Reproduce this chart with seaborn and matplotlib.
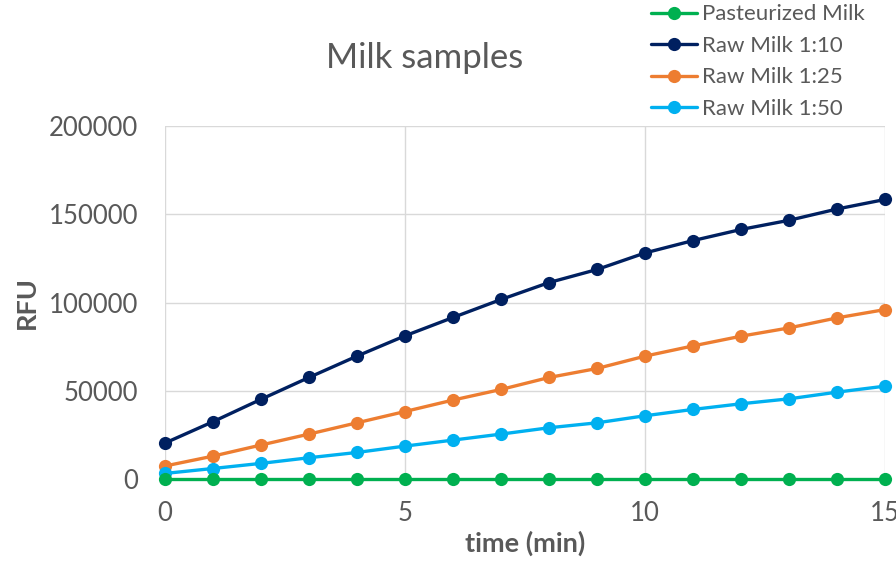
import seaborn as sns
import matplotlib.pyplot as plt
import pandas as pd

sns.set_theme(style="whitegrid")
plt.rcParams['font.family'] = ['Lato', 'DejaVu Sans']

# data
time_min = list(range(16))
pasteurized = [0] * 16
raw_1_10 = [20400, 32500, 45200, 57600, 69700, 81200, 91600, 101800,
            111400, 118800, 128200, 135200, 141500, 146700, 153100, 158500]
raw_1_25 = [7400, 13000, 19300, 25500, 31900, 38300, 44800, 50800,
            57600, 62700, 69700, 75500, 81000, 85700, 91400, 96100]
raw_1_50 = [3200, 6000, 8900, 12100, 15100, 18700, 22100, 25500,
            29100, 31900, 35900, 39500, 42700, 45500, 49300, 52700]

series = {
    'Pasteurized Milk': (pasteurized, '#00B050'),
    'Raw Milk 1:10': (raw_1_10, '#002060'),
    'Raw Milk 1:25': (raw_1_25, '#ED7D31'),
    'Raw Milk 1:50': (raw_1_50, '#00B0F0'),
}

gray = '#595959'
fig = plt.figure(figsize=(8.96, 5.61), dpi=100)
ax = fig.add_axes([0.184, 0.146, 0.804, 0.629])

# draw raw series first so green line sits on top at zero
order = ['Raw Milk 1:10', 'Raw Milk 1:25', 'Raw Milk 1:50', 'Pasteurized Milk']
for name in order:
    vals, col = series[name]
    sns.lineplot(x=time_min, y=vals, ax=ax, color=col, marker='o', markersize=9.5,
                 markeredgewidth=0, linewidth=2.4, label=name, clip_on=False)

ax.set_xlim(0, 15)
ax.set_ylim(0, 200000)
ax.set_xticks([0, 5, 10, 15])
ax.set_yticks([0, 50000, 100000, 150000, 200000])
ax.tick_params(colors=gray, labelsize=18.5, length=0)
ax.tick_params(axis='y', pad=19)
ax.tick_params(axis='x', pad=16)
ax.grid(color='#D9D9D9', linewidth=1)
for s in ax.spines.values():
    s.set_visible(False)

ax.set_xlabel('time (min)', fontsize=19.5, fontweight='bold', color=gray, labelpad=3)
ax.set_ylabel('RFU', fontsize=19.5, fontweight='bold', color=gray, labelpad=7)
fig.text(0.474, 0.897, 'Milk samples', fontsize=25, color=gray, ha='center', va='center')

handles, labels = ax.get_legend_handles_labels()
want = ['Pasteurized Milk', 'Raw Milk 1:10', 'Raw Milk 1:25', 'Raw Milk 1:50']
hl = [handles[labels.index(w)] for w in want]
ax.legend_.remove()
fig.legend(hl, want, loc='upper left', bbox_to_anchor=(0.712, 1.016),
           frameon=False, fontsize=16, labelcolor=gray, handlelength=2.05,
           handletextpad=0.25, labelspacing=0.52, borderaxespad=0.2)

fig.savefig('out.png', dpi=100)
